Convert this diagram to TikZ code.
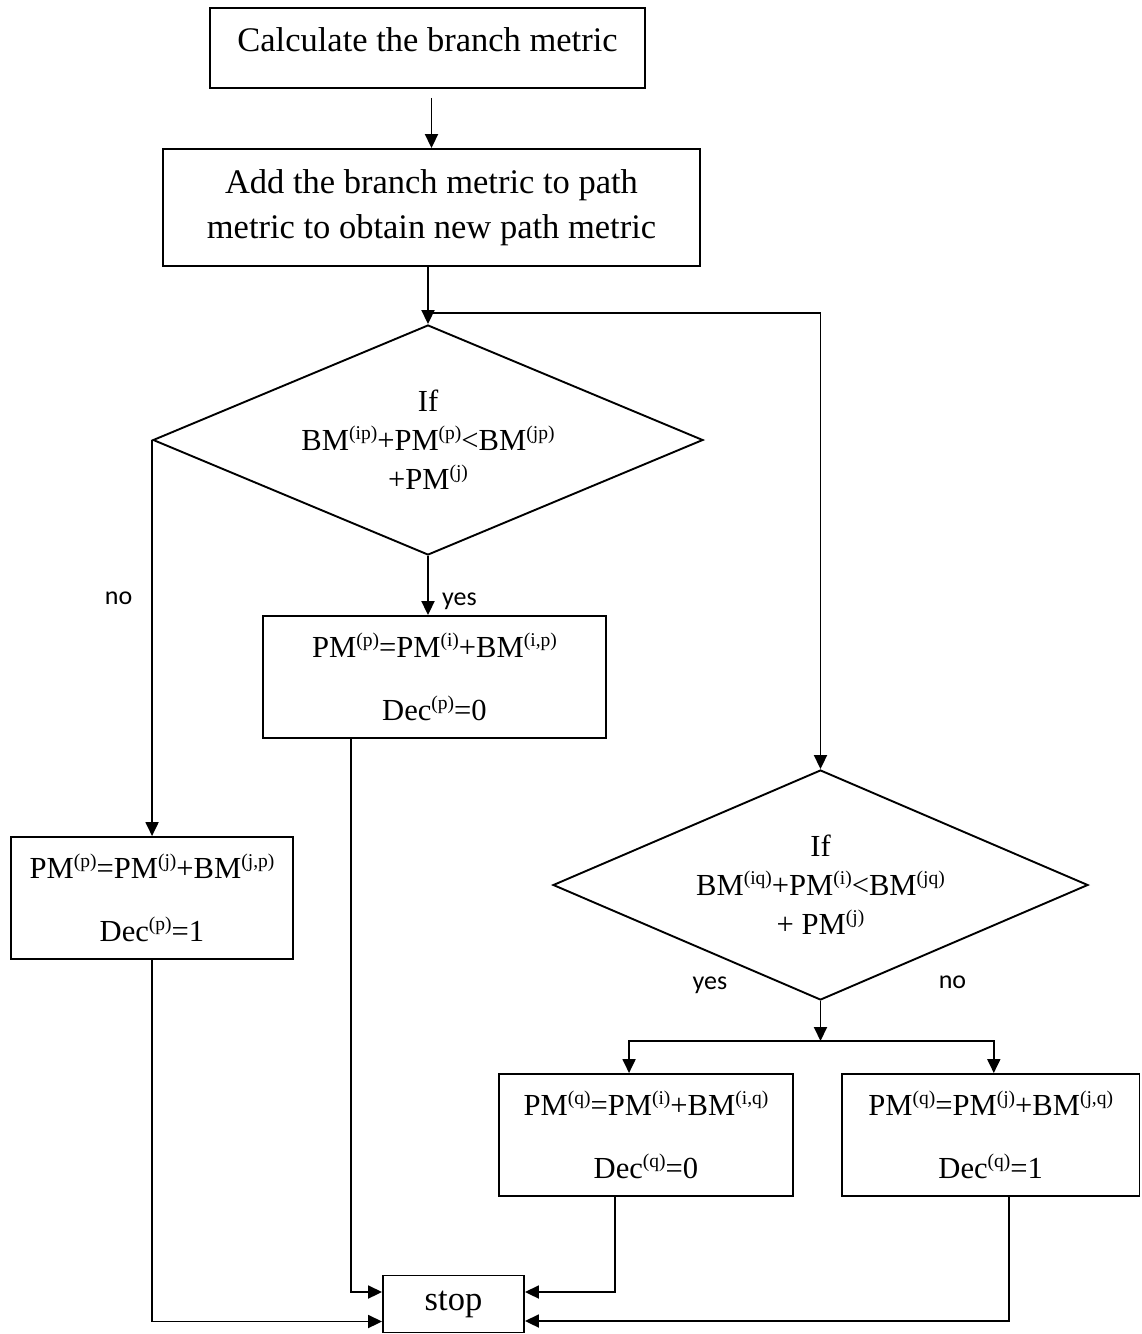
\documentclass[tikz,border=0pt]{standalone}
\usepackage{fontspec}
\setmainfont{Liberation Serif}
\newfontfamily\labelfont{Carlito}
\usetikzlibrary{shapes.geometric,arrows.meta,calc}
% raised, smaller superscript used in the metric formulas
\newcommand\sps[1]{\raisebox{0.36em}{\fontsize{19.5}{19.5}\selectfont #1}}

\begin{document}
\begin{tikzpicture}[x=1pt,y=-1pt,
  line width=1.9pt,
  box/.style={draw, rectangle, inner sep=0pt, align=center},
  titlebox/.style={draw, rectangle, inner sep=0pt},
  cond/.style={draw, diamond, inner sep=0pt, shape aspect=2.38, align=center,
               font=\fontsize{30.6}{39}\selectfont},
  flow/.style={-{Triangle[length=14pt,width=13pt]}},
  lbl/.style={font=\labelfont\fontsize{26}{30}\selectfont, inner sep=0pt},
  big/.style={font=\fontsize{34.5}{45}\selectfont},
  frm/.style={font=\fontsize{30.6}{37}\selectfont},
]
\useasboundingbox (0,0) rectangle (1142,1334);

% process steps
\node[titlebox, big, minimum width=435pt, minimum height=80pt,
      text height=28pt, text depth=22pt] (bm) at (427.5,48) {Calculate the branch metric};
\node[box, big, minimum width=537pt, minimum height=117pt] (add) at (431.5,207.5)
  {Add the branch metric to path\\metric to obtain new path metric};

% first comparison and its outcomes
\node[cond, minimum width=550pt, minimum height=230pt] (d1) at (428,440)
  {If\\BM\sps{(ip)}+PM\sps{(p)}<BM\sps{(jp)}\\+PM\sps{(j)}};
\node[box, frm, minimum width=343pt, minimum height=122pt] (pA) at (434.5,677)
  {PM\sps{(p)}=PM\sps{(i)}+BM\sps{(i,p)}\\[26pt]Dec\sps{(p)}=0};
\node[box, frm, minimum width=282pt, minimum height=122pt] (pB) at (152,898)
  {PM\sps{(p)}=PM\sps{(j)}+BM\sps{(j,p)}\\[26pt]Dec\sps{(p)}=1};

% second comparison and its outcomes
\node[cond, minimum width=535pt, minimum height=230pt] (d2) at (820.5,885)
  {If\\BM\sps{(iq)}+PM\sps{(i)}<BM\sps{(jq)}\\+ PM\sps{(j)}};
\node[box, frm, minimum width=294pt, minimum height=122pt] (qA) at (646,1135)
  {PM\sps{(q)}=PM\sps{(i)}+BM\sps{(i,q)}\\[26pt]Dec\sps{(q)}=0};
\node[box, frm, minimum width=297.5pt, minimum height=122pt] (qB) at (990.7,1135)
  {PM\sps{(q)}=PM\sps{(j)}+BM\sps{(j,q)}\\[26pt]Dec\sps{(q)}=1};

\node[box, big, minimum width=141pt, minimum height=57pt] (stop) at (453.5,1304) {stop};

% branch labels
\node[lbl] (no1) at (118.6,598) {no};
\node[lbl] (yes1) at (459.5,601) {yes};
\node[lbl] (yes2) at (710,985) {yes};
\node[lbl] (no2) at (952.5,982) {no};

% junction points
\coordinate (split) at (428,313);
\coordinate (split2) at (820.5,1041);
\coordinate (qAin) at ($(qA.north west)+(131,0)$);
\coordinate (qBin) at ($(qB.north west)+(152.8,0)$);

% connectors
\draw[flow, shorten <=9pt] (add.north |- bm.south) -- (add.north);
\draw[flow] (d1.north |- add.south) -- (d1.north);
\draw[flow] (split) -| (d2.north);
\draw[flow] (d1.west) -- (d1.west |- pB.north);
\draw[flow] (d1.south) -- (d1.south |- pA.north);
\draw[flow] (d2.south) -- (split2);
\draw[flow] (split2) -| (qAin);
\draw[flow] (split2) -| (qBin);

\draw[flow] ($(pA.south west)+(89,0)$) |- ($(stop.west)+(0,-12)$);
\draw[flow] (pB.south) |- ($(stop.west)+(0,17.5)$);
\draw[flow] ($(qA.south west)+(117,0)$) |- ($(stop.east)+(0,-12)$);
\draw[flow] ($(qB.south west)+(168,0)$) |- ($(stop.east)+(0,17)$);
\end{tikzpicture}
\end{document}
